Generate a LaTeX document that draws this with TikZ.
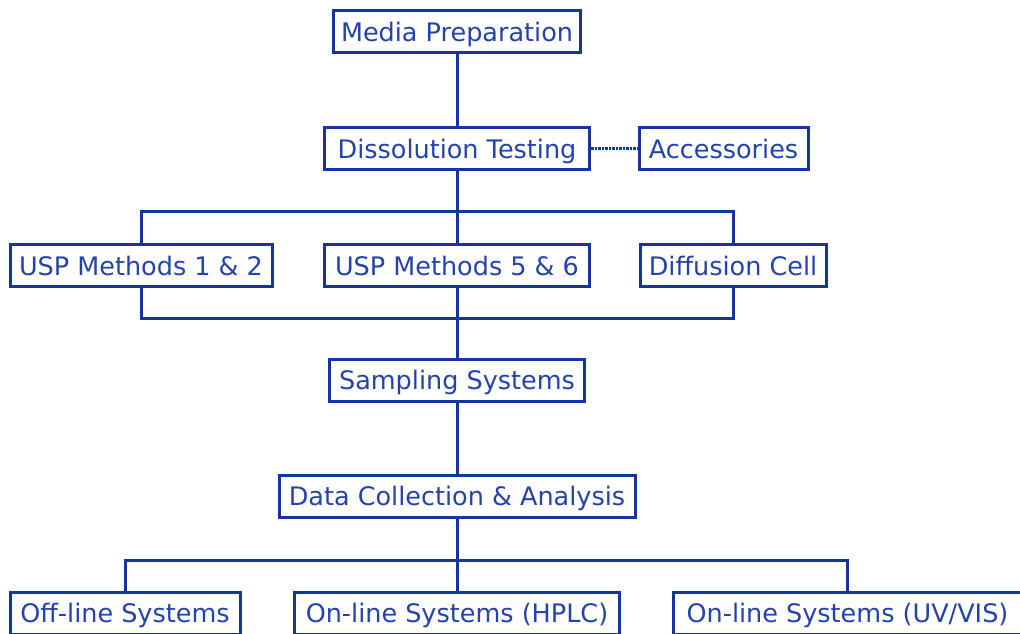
\documentclass[tikz,border=0pt]{standalone}
\usepackage{fontspec}
\setmainfont{DejaVu Sans}
\definecolor{lineblue}{RGB}{22,52,158}
\definecolor{textblue}{RGB}{36,66,172}
\begin{document}
\begin{tikzpicture}[x=1pt, y=-1pt,
        box/.style={draw=lineblue, line width=3pt, inner sep=0pt, minimum height=42pt,
                    text height=24pt, text depth=5pt,
                    text=textblue, font=\fontsize{25.5}{30}\selectfont},
        link/.style={draw=lineblue, line width=3pt}]
        \useasboundingbox (0,0) rectangle (1020,633);

        \node[box, minimum width=247pt] (MP) at (457,31.5) {Media Preparation};
        \node[box, minimum width=265pt] (DT) at (457,148.5) {Dissolution Testing};
        \node[box, minimum width=169pt] (ACC) at (723.5,148.5) {Accessories};
        \node[box, minimum width=262pt] (U12) at (141,265.5) {USP Methods 1 \& 2};
        \node[box, minimum width=265pt] (U56) at (457,265.5) {USP Methods 5 \& 6};
        \node[box, minimum width=186pt] (DC) at (733,265.5) {Diffusion Cell};
        \node[box, minimum width=255pt] (SS) at (457,380) {Sampling Systems};
        \node[box, minimum width=356pt] (DCA) at (457,496) {Data Collection \& Analysis};
        \node[box, minimum width=230pt] (OFF) at (125,613) {Off-line Systems};
        \node[box, minimum width=325pt] (HPLC) at (457,613) {On-line Systems (HPLC)};
        \node[box, minimum width=349pt] (UV) at (847.5,613) {On-line Systems (UV/VIS)};

        \coordinate (split) at (457,211);
        \coordinate (merge) at (457,318);
        \coordinate (fan) at (457,560);

        \draw[link] (MP) -- (DT);
        \draw[link, line width=2.5pt, densely dotted] (DT) -- (ACC);

        \draw[link] (DT) -- (U56);
        \draw[link] (U12.north) -- (U12.north |- split) -- (DC.north |- split) -- (DC.north);

        \draw[link] (U56) -- (SS);
        \draw[link] (U12.south) -- (U12.south |- merge) -- (DC.south |- merge) -- (DC.south);

        \draw[link] (SS) -- (DCA);

        \draw[link] (DCA) -- (HPLC);
        \draw[link] (OFF.north) -- (OFF.north |- fan) -- (UV.north |- fan) -- (UV.north);
    \end{tikzpicture}
\end{document}
